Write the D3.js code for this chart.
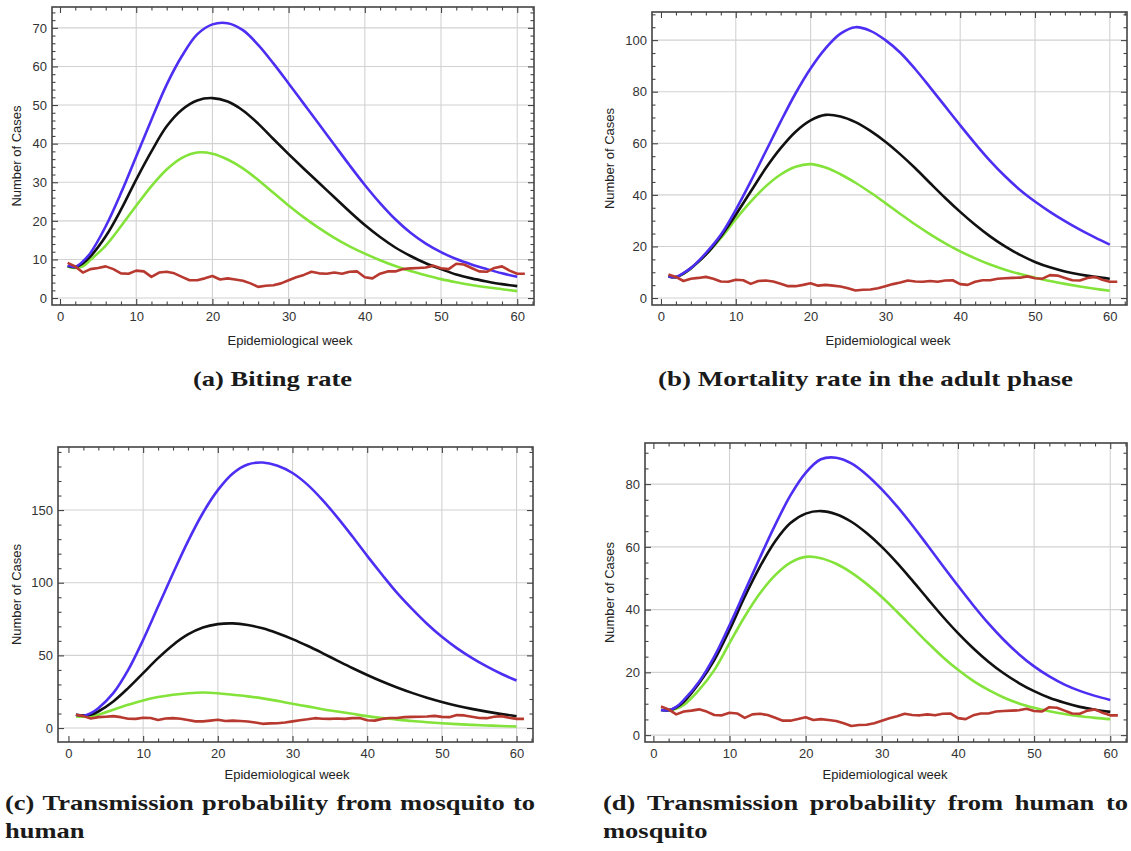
<!DOCTYPE html>
<html>
<head>
<meta charset="utf-8">
<script src="https://cdn.jsdelivr.net/npm/d3@7/dist/d3.min.js"></script>
<style>
  body { margin: 0; background: #fff; }
  .tick text { font-family: "Liberation Sans", Arial, sans-serif; font-size: 13px; fill: #333; }
  .axis-label { font-family: "Liberation Sans", Arial, sans-serif; font-size: 13px; fill: #222; }
  .caption text { font-family: "Liberation Serif", "DejaVu Serif", serif; font-size: 21px; font-weight: bold; fill: #1a1a1a; }
</style>
</head>
<body>
<svg id="chart" width="1131" height="851"></svg>
<script>
const weeks = [1,2,3,4,6,8,10,12,14,16,18,20,22,24,26,28,30,32,34,36,38,40,42,44,46,48,50,52,54,56,58,60];

// observed cases (red), same in every panel
const obsWeeks = [1,2,3,4,5,6,7,8,9,10,11,12,13,14,15,16,17,18,19,20,21,22,23,24,25,26,27,28,29,30,
  31,32,33,34,35,36,37,38,39,40,41,42,43,44,45,46,47,48,49,50,51,52,53,54,55,56,57,58,59,60,61];
const observed = [9.1,8.2,6.6,7.5,7.8,8.2,7.5,6.4,6.3,7.1,6.9,5.5,6.6,6.8,6.4,5.5,4.6,4.6,5.1,5.7,
  4.8,5.1,4.8,4.5,3.8,2.9,3.2,3.3,3.8,4.6,5.4,6.0,6.8,6.4,6.3,6.6,6.3,6.8,6.9,5.4,
  5.1,6.3,6.9,6.9,7.5,7.7,7.8,7.9,8.4,7.7,7.5,8.9,8.7,7.8,6.9,6.8,7.8,8.2,7.1,6.3,6.3];

// (a) biting rate
const aBlue  = [8.4,8.1,9.5,11.7,18.6,27.2,36.7,46.2,55.3,62.7,68.3,70.9,71.2,69.4,65.6,60.8,55.6,50.3,45.0,39.7,34.4,29.3,24.6,20.4,16.9,14.1,11.9,10.1,8.7,7.5,6.4,5.5];
const aBlack = [8.3,8.0,9.0,10.8,16,22.9,30.7,38,44.5,48.8,51.2,51.8,50.9,48.6,45.2,41.2,37.3,33.5,29.8,26.1,22.4,18.9,15.8,13.1,10.9,9.0,7.5,6.1,5.1,4.3,3.6,3.1];
const aGreen = [8.2,7.8,8.2,9.9,13.6,18.6,23.9,29.0,33.3,36.3,37.7,37.4,35.9,33.6,30.6,27.3,24.0,20.9,18.1,15.6,13.4,11.5,9.8,8.3,7.0,5.9,4.9,4.1,3.4,2.8,2.3,1.8];

// (b) mortality rate in the adult phase
const bBlue  = [8.4,8.1,9.7,11.6,17.4,24.5,34.2,45.2,56.8,68.4,79.4,89,96.8,102.5,105,103.6,100,95.1,88.7,81.6,74.3,67.0,59.9,53.2,47.2,41.9,37.4,33.4,29.8,26.5,23.5,20.7];
const bBlack = [8.4,8.1,9.5,11.6,16.8,23.9,32.3,41.3,50.3,58.1,64.5,68.9,71.0,70.4,68.2,64.8,60.6,55.7,50.3,44.5,38.8,33.4,28.4,23.9,20.0,16.7,14.0,11.9,10.3,9.1,8.2,7.5];
const bGreen = [8.4,8.0,9.4,11.4,16.8,23.2,30.6,37.4,43.3,47.9,50.9,51.9,50.6,48.0,44.7,40.9,36.8,32.6,28.5,24.7,21.2,18.1,15.4,13.0,11.0,9.3,7.9,6.6,5.5,4.5,3.6,2.8];

// (c) transmission probability from mosquito to human
const cBlue  = [9.2,8.5,10.3,13.7,24,40,60.7,83.6,106.5,128.5,148.0,163.7,175.2,181.4,182.7,180.5,175.5,167.5,157,145,132,118.5,105.5,93,82,71.8,62.8,55.0,48.3,42.4,37.2,32.7];
const cBlack = [9.2,8.7,9.2,11.4,18.3,27.5,37.8,48.1,57.2,64.4,69.2,71.5,72.0,70.9,68.6,65.2,61.2,56.6,51.6,46.4,41.3,36.5,32.0,27.9,24.2,20.9,18.0,15.4,13.2,11.3,9.6,8.1];
const cGreen = [8,7.8,8.3,9.2,12.6,16,19,21.3,22.9,24,24.5,24,22.9,21.8,20.4,18.7,16.7,14.9,13,11.4,9.8,8.2,6.9,5.8,4.8,4.0,3.3,2.7,2.2,1.8,1.4,1.1];

// (d) transmission probability from human to mosquito
const dBlue  = [8,7.9,9,11.2,17,25,35.0,45.8,56.6,67.0,76.4,83.6,87.9,88.4,86.6,83.0,78.3,72.9,66.9,60.5,54.0,47.6,41.4,35.6,30.4,25.8,21.9,18.7,16.1,14.1,12.5,11.2];
const dBlack = [8,7.9,8.8,10.6,16.5,23.9,33.5,44.1,53.7,61.8,67.6,70.6,71.4,70.4,68.0,64.4,60.0,54.9,49.3,43.5,37.8,32.5,27.7,23.4,19.7,16.6,14.0,11.9,10.3,9.0,8.1,7.4];
const dGreen = [8,7.8,8.4,9.6,14.4,20.7,29.3,37.8,45.2,51.0,55.0,56.8,56.4,54.6,51.8,48.2,44.0,39.3,34.4,29.5,24.9,20.8,17.3,14.4,12.0,10.1,8.7,7.6,6.7,6.0,5.5,5.1];

const xTicks = [0,10,20,30,40,50,60];

const colors = { blue: '#4c2ff2', black: '#111', green: '#84e33a', red: '#b8392f' };

const svg = d3.select('#chart');

const panels = [
  { series: [aGreen, aBlack, aBlue], frame: [52, 7, 534, 305], xDom: [-1.05, 62.2], yDom: [-1.8, 75.4],
    yTicks: [0,10,20,30,40,50,60,70], yMinor: 2, yLabelX: 21, xLabelX: 290, xLabelY: 345 },
  { series: [bGreen, bBlack, bBlue], frame: [652, 12, 1127, 305], xDom: [-1.2, 62.3], yDom: [-2.7, 110.9],
    yTicks: [0,20,40,60,80,100], yMinor: 5, yLabelX: 614, xLabelX: 888, xLabelY: 345 },
  { series: [cGreen, cBlack, cBlue], frame: [58, 447, 533, 742], xDom: [-1.4, 62.2], yDom: [-9.6, 193.4],
    yTicks: [0,50,100,150], yMinor: 10, yLabelX: 21, xLabelX: 287, xLabelY: 779 },
  { series: [dGreen, dBlack, dBlue], frame: [645, 443, 1127, 742], xDom: [-1.1, 62.2], yDom: [-2.2, 93.1],
    yTicks: [0,20,40,60,80], yMinor: 5, yLabelX: 614, xLabelX: 885, xLabelY: 779 }
];

function minorTicks(dom, step) {
  const out = [];
  for (let v = Math.ceil(dom[0] / step) * step; v <= dom[1]; v += step) out.push(+v.toFixed(6));
  return out;
}

function drawPanel(p, idx) {
  const [L, T, R, B] = p.frame;
  const x = d3.scaleLinear().domain(p.xDom).range([L, R]);
  const y = d3.scaleLinear().domain(p.yDom).range([B, T]);
  const g = svg.append('g').attr('class', 'panel');

  // grid
  g.append('g').selectAll('line').data(xTicks.filter(v => v > 0)).join('line')
    .attr('x1', d => x(d)).attr('x2', d => x(d)).attr('y1', T).attr('y2', B)
    .attr('stroke', '#d2d2d2').attr('stroke-width', 1.1);
  g.append('g').selectAll('line').data(p.yTicks).join('line')
    .attr('x1', L).attr('x2', R).attr('y1', d => y(d)).attr('y2', d => y(d))
    .attr('stroke', '#d2d2d2').attr('stroke-width', 1.1);

  // curves
  const clipId = 'clip' + idx;
  g.append('clipPath').attr('id', clipId).append('rect')
    .attr('x', L).attr('y', T).attr('width', R - L).attr('height', B - T);
  const curve = d3.line().x(d => x(d[0])).y(d => y(d[1])).curve(d3.curveCatmullRom.alpha(0.5));
  const cols = [colors.green, colors.black, colors.blue];
  p.series.forEach((s, i) => {
    g.append('path').datum(weeks.map((w, j) => [w, s[j]]))
      .attr('clip-path', 'url(#' + clipId + ')')
      .attr('fill', 'none').attr('stroke', cols[i]).attr('stroke-width', 2.6)
      .attr('stroke-linejoin', 'round').attr('d', curve);
  });
  const obsLine = d3.line().x(d => x(d[0])).y(d => y(d[1]));
  g.append('path').datum(obsWeeks.map((w, j) => [w, observed[j]]))
    .attr('clip-path', 'url(#' + clipId + ')')
    .attr('fill', 'none').attr('stroke', colors.red).attr('stroke-width', 2.6)
    .attr('stroke-linejoin', 'round').attr('d', obsLine);

  // ticks, all pointing inward
  const xMin = minorTicks(p.xDom, 2).filter(v => !xTicks.includes(v));
  const yMin = minorTicks(p.yDom, p.yMinor).filter(v => !p.yTicks.includes(v));

  g.append('g').attr('transform', 'translate(0,' + B + ')')
    .call(d3.axisBottom(x).tickValues(xTicks).tickSize(-6).tickPadding(7).tickFormat(d3.format('d')));
  g.append('g').attr('transform', 'translate(0,' + B + ')')
    .call(d3.axisBottom(x).tickValues(xMin).tickSize(-3.5).tickFormat(''));
  g.append('g').attr('transform', 'translate(0,' + T + ')')
    .call(d3.axisTop(x).tickValues(xTicks).tickSize(-6).tickFormat(''));
  g.append('g').attr('transform', 'translate(0,' + T + ')')
    .call(d3.axisTop(x).tickValues(xMin).tickSize(-3.5).tickFormat(''));

  g.append('g').attr('transform', 'translate(' + L + ',0)')
    .call(d3.axisLeft(y).tickValues(p.yTicks).tickSize(-6).tickPadding(5).tickFormat(d3.format('d')));
  g.append('g').attr('transform', 'translate(' + L + ',0)')
    .call(d3.axisLeft(y).tickValues(yMin).tickSize(-3.5).tickFormat(''));
  g.append('g').attr('transform', 'translate(' + R + ',0)')
    .call(d3.axisRight(y).tickValues(p.yTicks).tickSize(-6).tickFormat(''));
  g.append('g').attr('transform', 'translate(' + R + ',0)')
    .call(d3.axisRight(y).tickValues(yMin).tickSize(-3.5).tickFormat(''));

  g.selectAll('.domain').remove();
  g.selectAll('.tick line').attr('stroke', '#444').attr('stroke-width', 1.1);

  // frame
  g.append('rect').attr('x', L).attr('y', T).attr('width', R - L).attr('height', B - T)
    .attr('fill', 'none').attr('stroke', '#444').attr('stroke-width', 1.6);

  // axis labels
  g.append('text').attr('class', 'axis-label')
    .attr('transform', 'translate(' + p.yLabelX + ',' + ((T + B) / 2) + ') rotate(-90)')
    .attr('text-anchor', 'middle').text('Number of Cases');
  g.append('text').attr('class', 'axis-label')
    .attr('x', p.xLabelX).attr('y', p.xLabelY).attr('text-anchor', 'middle')
    .text('Epidemiological week');
}

panels.forEach(drawPanel);

// captions
const cap = svg.append('g').attr('class', 'caption');

function fitted(str, x0, yb, w) {
  return cap.append('text').attr('x', x0).attr('y', yb).text(str)
    .attr('textLength', w).attr('lengthAdjust', 'spacingAndGlyphs');
}

const capA = fitted('(a) Biting rate', 193, 386, 159);
fitted('(b) Mortality rate in the adult phase', 658, 386, 415);

// horizontal stretch of the serif face, taken from caption (a)
capA.attr('textLength', null);
const stretch = 159 / capA.node().getComputedTextLength();
capA.attr('textLength', 159);

function justified(words, x0, yb, width) {
  const items = words.map(w => {
    const t = cap.append('text').attr('y', yb).text(w);
    return { t, w: t.node().getComputedTextLength() * stretch };
  });
  const gap = (width - d3.sum(items, d => d.w)) / (items.length - 1);
  let cx = x0;
  items.forEach(it => {
    it.t.attr('x', cx).attr('textLength', it.w).attr('lengthAdjust', 'spacingAndGlyphs');
    cx += it.w + gap;
  });
}

function plain(str, x0, yb) {
  const t = cap.append('text').attr('x', x0).attr('y', yb).text(str);
  t.attr('textLength', t.node().getComputedTextLength() * stretch).attr('lengthAdjust', 'spacingAndGlyphs');
}

justified(['(c)', 'Transmission', 'probability', 'from', 'mosquito', 'to'], 5, 810, 530);
plain('human', 5, 838);
justified(['(d)', 'Transmission', 'probability', 'from', 'human', 'to'], 603, 810, 525);
plain('mosquito', 603, 838);
</script>
</body>
</html>
